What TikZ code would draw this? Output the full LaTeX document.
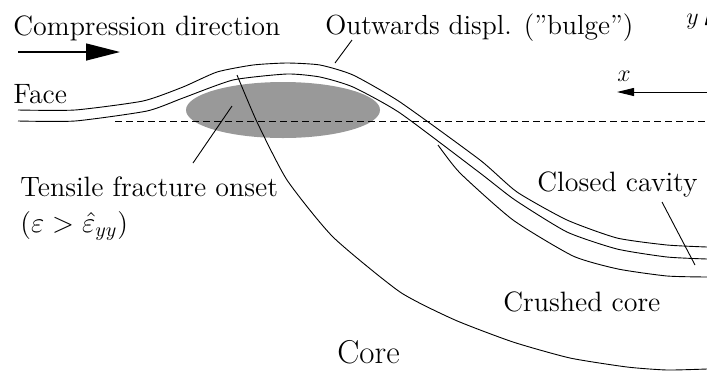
\documentclass[tikz,border=0pt]{standalone}
\usetikzlibrary{arrows.meta}
\tikzset{lbl/.style={inner sep=0pt,anchor=base west,font=\fontsize{14}{17}\selectfont},thin line/.style={line width=0.45pt}}
\begin{document}
\begin{tikzpicture}[x=0.5pt,y=-0.5pt]
	\useasboundingbox (0,0) rectangle (707,387);
	\clip (0,0) rectangle (707,387);
	\fill[black!40] (283,110) ellipse (97 and 28);
	\draw[thin line,dash pattern=on 3.6pt off 1.9pt] (115,121)--(707,121);
	% face sheets
	\draw[thin line] plot[smooth,tension=0.35] coordinates {(18,110) (75,110) (143,101) (183,87) (217,72) (253,65) (287,63) (320,65) (353,75) (400,102) (480,160) (517,192) (567,220) (617,238) (667,245) (707,247)};
	\draw[thin line] plot[smooth,tension=0.35] coordinates {(18,121) (75,121) (147,111) (183,98) (233,80) (287,74) (320,77) (353,87) (400,113) (480,173) (515,200) (567,232) (617,249) (667,257) (707,259)};
	% crushed core and core
	\draw[thin line] plot[smooth,tension=0.35] coordinates {(438,145) (460,173) (513,220) (573,256) (618,269) (667,276) (707,277)};
	\draw[thin line] plot[smooth,tension=0.35] coordinates {(237,75) (257,122) (287,180) (333,237) (400,292) (455,320) (513,342) (570,358) (627,367) (667,370) (707,369)};
	% labels
	\node[lbl] (comp) at (13,35) {Compression direction};
	\node[lbl] (face) at (13,103) {Face};
	\node[lbl,font=\fontsize{13.8}{17}\selectfont] (bulge) at (325,34) {Outwards displ. ("bulge")};
	\node[lbl] (tens) at (20,196) {Tensile fracture onset};
	\node[lbl] (eps) at (20,232) {($\varepsilon>\hat{\varepsilon}_{yy}$)};
	\node[lbl] (closed) at (537,191) {Closed cavity};
	\node[lbl] (crush) at (503,311) {Crushed core};
	\node[lbl,font=\fontsize{16.5}{19}\selectfont] (core) at (337,363) {Core};
	\node[lbl,font=\fontsize{12}{14}\selectfont] (xl) at (617,81) {$x$};
	\node[lbl,font=\fontsize{12}{14}\selectfont] (yl) at (686,24) {$y$};
	% leaders
	\coordinate (bulgeA) at (352,40);
	\coordinate (bulgeB) at (335,63);
	\coordinate (tensA) at (193,163);
	\coordinate (tensB) at (232,106);
	\coordinate (closedA) at (662,202);
	\coordinate (closedB) at (695,265);
	\foreach \a/\b in {bulgeA/bulgeB,tensA/tensB,closedA/closedB}{
		\draw[thin line] (\a)--(\b);
	}
	% arrows
	\coordinate (compA) at (18,52);
	\coordinate (compB) at (120,52);
	\draw[line width=0.7pt,-{Triangle[length=17pt,width=8.5pt]}] (compA)--(compB);
	\coordinate (xA) at (707,92);
	\coordinate (xB) at (617,92);
	\draw[thin line,-{Triangle[length=8.5pt,width=4pt]}] (xA)--(xB);
	\coordinate (yA) at (709,92);
	\coordinate (yB) at (709,8);
	\draw[thin line,-{Triangle[length=8.5pt,width=4pt]}] (yA)--(yB);
\end{tikzpicture}
\end{document}
